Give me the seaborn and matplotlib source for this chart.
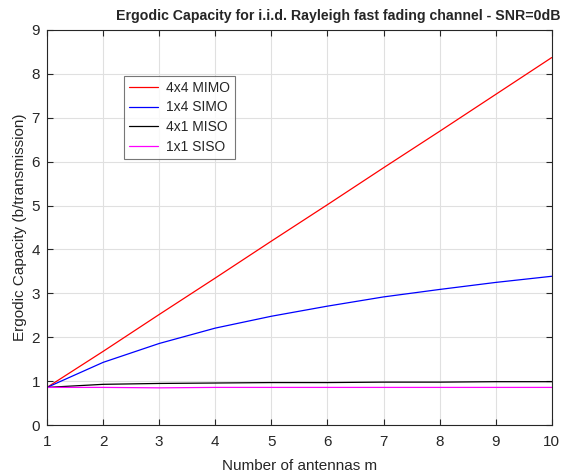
import pandas as pd
import matplotlib
matplotlib.use("Agg")
import matplotlib.pyplot as plt
import seaborn as sns

# number of antennas
m = [1, 2, 3, 4, 5, 6, 7, 8, 9, 10]
# ergodic capacity values
mimo_4x4 = [0.86, 1.68, 2.52, 3.35, 4.19, 5.02, 5.86, 6.69, 7.53, 8.37]
simo_1x4 = [0.86, 1.43, 1.86, 2.21, 2.48, 2.71, 2.92, 3.09, 3.25, 3.39]
miso_4x1 = [0.86, 0.93, 0.95, 0.96, 0.97, 0.97, 0.98, 0.98, 0.99, 0.99]
siso_1x1 = [0.86, 0.86, 0.85, 0.86, 0.86, 0.86, 0.86, 0.86, 0.86, 0.86]

labels = ["4x4 MIMO", "1x4 SIMO", "4x1 MISO", "1x1 SISO"]
colors = ["#ff0000", "#0000ff", "#000000", "#ff00ff"]

df = pd.concat([
    pd.DataFrame({"m": m, "cap": vals, "system": lab})
    for lab, vals in zip(labels, [mimo_4x4, simo_1x4, miso_4x1, siso_1x1])
])

sns.set_style("whitegrid")
plt.rcParams['font.family'] = ['Liberation Sans', 'DejaVu Sans']

fig = plt.figure(figsize=(5.7, 4.74), dpi=100)
ax = fig.add_axes([0.0825, 0.103, 0.8855, 0.834])

sns.lineplot(data=df, x="m", y="cap", hue="system", palette=dict(zip(labels, colors)),
             linewidth=0.9, ax=ax)

ax.set_xlim(1, 10)
ax.set_ylim(0, 9)
ax.set_xticks(range(1, 11))
ax.set_yticks(range(0, 10))
ax.grid(True, color="#e0e0e0", linewidth=0.8)
for s in ax.spines.values():
    s.set_color("#262626")
    s.set_linewidth(0.8)
ax.tick_params(direction="in", length=4, labelsize=11, colors="#262626",
               top=True, right=True, left=True, bottom=True)
ax.tick_params(axis="x", pad=7)
ax.tick_params(axis="y", pad=5)
ax.set_xlabel("Number of antennas m", fontsize=11, color="#262626", labelpad=7)
ax.set_ylabel("Ergodic Capacity (b/transmission)", fontsize=11, color="#262626", labelpad=3)
ax.set_title("Ergodic Capacity for i.i.d. Rayleigh fast fading channel - SNR=0dB",
             fontsize=10.2, fontweight="bold", x=0.576, pad=7)

leg = ax.legend(loc="upper left", bbox_to_anchor=(0.152, 0.884), borderaxespad=0,
                fontsize=10, frameon=True, fancybox=False, borderpad=0.35,
                labelspacing=0.42, handlelength=2.1, handletextpad=0.6)
leg.get_frame().set_edgecolor("#555555")
leg.get_frame().set_linewidth(0.8)

fig.savefig("out.png", dpi=100)
